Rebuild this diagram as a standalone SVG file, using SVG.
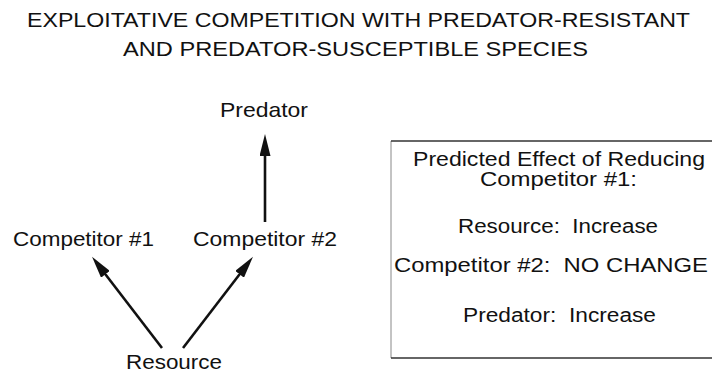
<svg xmlns="http://www.w3.org/2000/svg" width="712" height="374" viewBox="0 0 712 374">
<style>
  text { font-family: "Liberation Sans", Arial, sans-serif; fill: #111; white-space: pre; }
  .title { font-size: 20px; }
  .lbl { font-size: 21px; }
  .box { font-size: 20px; }
  .conn { stroke: #111; stroke-width: 2.6; fill: none; marker-end: url(#ah); }
</style>
<defs>
  <marker id="ah" viewBox="0 0 22 11" refX="13" refY="5.5" markerWidth="22" markerHeight="11" markerUnits="userSpaceOnUse" orient="auto">
    <path d="M0,0 L22,5.5 L0,11 z" fill="#111"/>
  </marker>
</defs>
<rect width="712" height="374" fill="#fff"/>
<g id="title">
  <text class="title" x="27" y="27" textLength="663" lengthAdjust="spacingAndGlyphs">EXPLOITATIVE COMPETITION WITH PREDATOR-RESISTANT</text>
  <text class="title" x="123" y="56" textLength="465" lengthAdjust="spacingAndGlyphs">AND PREDATOR-SUSCEPTIBLE SPECIES</text>
</g>
<g id="connectors">
  <line class="conn" x1="265" y1="222" x2="265" y2="143"/>
  <line class="conn" x1="162" y1="348" x2="97.5" y2="264"/>
  <line class="conn" x1="183" y1="348" x2="247.5" y2="264"/>
</g>
<g id="predator">
  <text class="lbl" x="220" y="117" textLength="88" lengthAdjust="spacingAndGlyphs">Predator</text>
</g>
<g id="competitor1">
  <text class="lbl" x="13" y="246" textLength="141" lengthAdjust="spacingAndGlyphs">Competitor #1</text>
</g>
<g id="competitor2">
  <text class="lbl" x="193" y="246" textLength="144" lengthAdjust="spacingAndGlyphs">Competitor #2</text>
</g>
<g id="resource">
  <text class="lbl" x="126" y="369" textLength="96" lengthAdjust="spacingAndGlyphs">Resource</text>
</g>
<g id="prediction-box">
  <line x1="391" y1="141" x2="391" y2="358" stroke="#888" stroke-width="1"/>
  <line x1="391" y1="141" x2="712" y2="141" stroke="#333" stroke-width="1.5"/>
  <line x1="391" y1="358" x2="712" y2="358" stroke="#333" stroke-width="1.5"/>
  <text class="box" x="413" y="166" textLength="292" lengthAdjust="spacingAndGlyphs">Predicted Effect of Reducing</text>
  <text class="box" x="480" y="186" textLength="157" lengthAdjust="spacingAndGlyphs">Competitor #1:</text>
  <text class="box" x="458" y="233" textLength="200" lengthAdjust="spacingAndGlyphs">Resource:  Increase</text>
  <text class="box" x="394" y="272" textLength="314" lengthAdjust="spacingAndGlyphs">Competitor #2:  NO CHANGE</text>
  <text class="box" x="463" y="322" textLength="193" lengthAdjust="spacingAndGlyphs">Predator:  Increase</text>
</g>
</svg>
